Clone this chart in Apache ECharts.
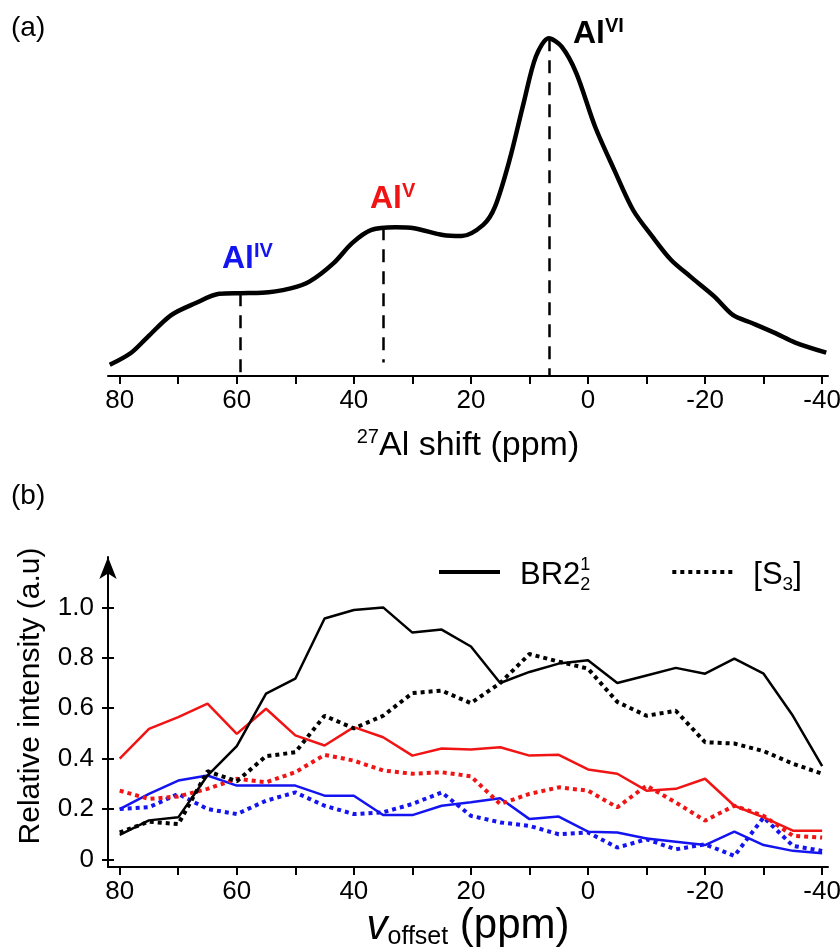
<!DOCTYPE html>
<html>
<head>
<meta charset="utf-8">
<script src="https://cdn.jsdelivr.net/npm/echarts@6/dist/echarts.min.js"></script>
<style>
  html, body { margin: 0; background: #fff; }
  #chart { width: 840px; height: 952px; }
</style>
</head>
<body>
<div id="chart"></div>
<script>
// (a) 27Al spectrum: [shift ppm, intensity]
const shiftPpm = [81.7, 78.1, 75.2, 71.2, 67.1, 63.0, 59.4, 55.7, 50.8, 47.6, 43.5, 40.3, 37.0, 32.9, 29.7,
  24.8, 21.6, 17.9, 15.9, 13.4, 11.0, 8.9, 6.7, 4.5, 2.0, -1.2, -4.5, -7.7, -11.0, -14.2, -17.5, -21.6,
  -24.8, -28.1, -32.1, -35.4, -40.7];
const spectrum = [0.033, 0.068, 0.116, 0.18, 0.215, 0.243, 0.245, 0.246, 0.259, 0.279, 0.333, 0.393, 0.432,
  0.44, 0.437, 0.417, 0.414, 0.447, 0.5, 0.639, 0.807, 0.945, 0.999, 0.974, 0.896, 0.738, 0.609, 0.491,
  0.412, 0.343, 0.294, 0.235, 0.18, 0.156, 0.126, 0.099, 0.069];

// peak positions marked with dashed lines
const peakPpm = [59.4, 34.9, 6.7];
const peakTop = [0.245, 0.44, 0.999];
const peakBottom = [0, 0.04, 0];

// (b) relative intensity vs offset
const offsetPpm = [80, 75, 70, 65, 60, 55, 50, 45, 40, 35, 30, 25, 20, 15, 10, 5, 0, -5, -10, -15, -20, -25, -30, -35, -40];
const brBlack = [0.097, 0.155, 0.167, 0.333, 0.45, 0.658, 0.717, 0.956, 0.99, 1.0, 0.9, 0.912, 0.845, 0.70,
  0.744, 0.777, 0.79, 0.70, 0.73, 0.76, 0.737, 0.797, 0.737, 0.57, 0.37];
const s3Black = [0.107, 0.15, 0.14, 0.35, 0.31, 0.41, 0.425, 0.57, 0.52, 0.57, 0.66, 0.67, 0.62, 0.70,
  0.815, 0.785, 0.757, 0.625, 0.57, 0.59, 0.465, 0.46, 0.43, 0.38, 0.34];
const brRed = [0.40, 0.518, 0.565, 0.618, 0.498, 0.598, 0.492, 0.452, 0.525, 0.485, 0.412, 0.44, 0.436, 0.445,
  0.412, 0.415, 0.357, 0.34, 0.273, 0.28, 0.32, 0.213, 0.167, 0.114, 0.114];
const s3Red = [0.273, 0.24, 0.25, 0.28, 0.32, 0.306, 0.346, 0.415, 0.392, 0.353, 0.34, 0.346, 0.33, 0.22,
  0.26, 0.286, 0.273, 0.207, 0.293, 0.226, 0.154, 0.213, 0.173, 0.094, 0.087];
const brBlue = [0.2, 0.26, 0.313, 0.333, 0.293, 0.293, 0.293, 0.253, 0.253, 0.176, 0.176, 0.213, 0.227, 0.243,
  0.16, 0.17, 0.11, 0.107, 0.083, 0.07, 0.057, 0.11, 0.057, 0.034, 0.025];
const s3Blue = [0.2, 0.207, 0.26, 0.2, 0.18, 0.233, 0.266, 0.213, 0.18, 0.187, 0.22, 0.266, 0.173, 0.147,
  0.133, 0.1, 0.107, 0.047, 0.08, 0.04, 0.06, 0.014, 0.167, 0.054, 0.034];

const xTicks = [80, 70, 60, 50, 40, 30, 20, 10, 0, -10, -20, -30, -40];
const xLabels = [80, 60, 40, 20, 0, -20, -40];
const yLabels = [0, 0.2, 0.4, 0.6, 0.8, 1.0];

const FONT = "'Liberation Sans', Arial, Helvetica, sans-serif";
const RED = '#f01414';
const BLUE = '#1414f0';

function pairs(xs, ys) {
  return xs.map((x, i) => [x, ys[i]]);
}

function xAxisCommon(grid) {
  return {
    type: 'value',
    gridIndex: grid,
    inverse: true,
    min: -41,
    max: 82,
    axisLine: { show: true, onZero: false, lineStyle: { color: '#000', width: 2 } },
    axisTick: { show: true, customValues: xTicks, length: 8, lineStyle: { color: '#000', width: 2 } },
    axisLabel: { customValues: xLabels, color: '#000', fontSize: 26, fontFamily: FONT, margin: 12 },
    splitLine: { show: false }
  };
}

const chart = echarts.init(document.getElementById('chart'));

const dashed = peakPpm.map((p, i) => [{ coord: [p, peakTop[i]] }, { coord: [p, peakBottom[i]] }]);

function line(name, data, color, dotted) {
  return {
    name: name,
    type: 'line',
    xAxisIndex: 1,
    yAxisIndex: 1,
    data: pairs(offsetPpm, data),
    symbol: 'none',
    itemStyle: { color: color },
    lineStyle: dotted ? { color: color, width: 4, type: [4, 4] } : { color: color, width: 2.5 }
  };
}

chart.setOption({
  animation: false,
  backgroundColor: '#fff',
  grid: [
    { left: 108, width: 720, top: 21, height: 355, containLabel: false, outerBoundsMode: 'none' },
    { left: 108, width: 720, top: 557, height: 310, containLabel: false, outerBoundsMode: 'none' }
  ],
  legend: {
    data: ['BR2', '[S3]'],
    left: 437,
    top: 556,
    padding: 0,
    itemWidth: 61,
    itemHeight: 38,
    itemGap: 80,
    itemStyle: { opacity: 0 },
    lineStyle: { width: 4 },
    formatter: function (name) {
      return name === 'BR2' ? '{m|BR2}{u|1}{d|2}' : '{m|[S}{s|3}{m|]}';
    },
    textStyle: {
      color: '#000',
      fontFamily: FONT,
      padding: [6, 0, 0, 15],
      rich: {
        m: { fontSize: 31, lineHeight: 38, fontFamily: FONT, color: '#000' },
        u: { fontSize: 18, lineHeight: 26, verticalAlign: 'top', width: 0, fontFamily: FONT, color: '#000' },
        d: { fontSize: 18, lineHeight: 14, verticalAlign: 'bottom', fontFamily: FONT, color: '#000' },
        s: { fontSize: 19, lineHeight: 14, verticalAlign: 'bottom', fontFamily: FONT, color: '#000' }
      }
    }
  },
  xAxis: [
    Object.assign(xAxisCommon(0), {
      name: '{sup|27}{n|Al shift (ppm)}',
      nameLocation: 'middle',
      nameGap: 51,
      nameTextStyle: {
        rich: {
          sup: { fontSize: 20, lineHeight: 28, verticalAlign: 'top', fontFamily: FONT, color: '#000' },
          n: { fontSize: 34, lineHeight: 38, fontFamily: FONT, color: '#000' }
        }
      }
    }),
    Object.assign(xAxisCommon(1), {
      name: '{i|v}{s|offset}{n| (ppm)}',
      nameLocation: 'middle',
      nameGap: 35,
      nameTextStyle: {
        rich: {
          i: { fontSize: 42, lineHeight: 46, fontStyle: 'italic', fontFamily: FONT, color: '#000' },
          s: { fontSize: 25, lineHeight: 32, verticalAlign: 'bottom', fontFamily: FONT, color: '#000' },
          n: { fontSize: 42, lineHeight: 46, fontFamily: FONT, color: '#000' }
        }
      }
    })
  ],
  yAxis: [
    { type: 'value', gridIndex: 0, min: 0, max: 1.05, show: false },
    {
      type: 'value',
      gridIndex: 1,
      position: 'left',
      min: -0.03,
      max: 1.2,
      name: 'Relative intensity (a.u)',
      nameLocation: 'middle',
      nameRotate: 90,
      nameGap: 62,
      nameTextStyle: { fontSize: 30, fontFamily: FONT, color: '#000', padding: [0, 0, 0, 32] },
      axisLine: {
        show: true,
        onZero: false,
        symbol: ['none', 'arrow'],
        symbolSize: [13, 22],
        lineStyle: { color: '#000', width: 2 }
      },
      axisTick: { show: true, customValues: yLabels, length: 6, lineStyle: { color: '#000', width: 2 } },
      axisLabel: {
        customValues: yLabels,
        color: '#000',
        fontSize: 26,
        fontFamily: FONT,
        margin: 14,
        formatter: v => (v === 0 ? '0' : v.toFixed(1))
      },
      splitLine: { show: false }
    },
    {
      // inner half of the y ticks
      type: 'value',
      gridIndex: 1,
      position: 'left',
      offset: 0,
      min: -0.03,
      max: 1.2,
      axisLine: { show: false, onZero: false },
      axisTick: { show: true, inside: true, customValues: yLabels, length: 6, lineStyle: { color: '#000', width: 2 } },
      axisLabel: { show: false },
      splitLine: { show: false }
    }
  ],
  graphic: [
    { type: 'text', left: 11, top: 14, style: { text: '(a)', font: '28px ' + FONT, fill: '#000' } },
    { type: 'text', left: 11, top: 482, style: { text: '(b)', font: '28px ' + FONT, fill: '#000' } },
    {
      type: 'text', x: 222, y: 259,
      style: {
        text: '{a|Al}{b|IV}', verticalAlign: 'middle',
        rich: {
          a: { fontSize: 32, fontWeight: 'bold', lineHeight: 36, fontFamily: FONT, fill: BLUE },
          b: { fontSize: 20, fontWeight: 'bold', lineHeight: 16, verticalAlign: 'top', fontFamily: FONT, fill: BLUE }
        }
      }
    },
    {
      type: 'text', x: 370, y: 199,
      style: {
        text: '{a|Al}{b|V}', verticalAlign: 'middle',
        rich: {
          a: { fontSize: 32, fontWeight: 'bold', lineHeight: 36, fontFamily: FONT, fill: RED },
          b: { fontSize: 20, fontWeight: 'bold', lineHeight: 16, verticalAlign: 'top', fontFamily: FONT, fill: RED }
        }
      }
    },
    {
      type: 'text', x: 573, y: 34,
      style: {
        text: '{a|Al}{b|VI}', verticalAlign: 'middle',
        rich: {
          a: { fontSize: 32, fontWeight: 'bold', lineHeight: 36, fontFamily: FONT, fill: '#000' },
          b: { fontSize: 20, fontWeight: 'bold', lineHeight: 16, verticalAlign: 'top', fontFamily: FONT, fill: '#000' }
        }
      }
    }
  ],
  series: [
    {
      name: 'spectrum',
      type: 'line',
      xAxisIndex: 0,
      yAxisIndex: 0,
      data: pairs(shiftPpm, spectrum),
      smooth: 0.3,
      symbol: 'none',
      lineStyle: { color: '#000', width: 4.5 },
      itemStyle: { color: '#000' },
      markLine: {
        silent: true,
        symbol: ['none', 'none'],
        label: { show: false },
        lineStyle: { color: '#000', width: 2.5, type: [13, 9] },
        data: dashed
      }
    },
    line('s3 blue', s3Blue, BLUE, true),
    line('br blue', brBlue, BLUE, false),
    line('s3 red', s3Red, RED, true),
    line('br red', brRed, RED, false),
    line('s3 black', s3Black, '#000', true),
    line('br black', brBlack, '#000', false),
    // legend entries only
    { name: 'BR2', type: 'line', xAxisIndex: 1, yAxisIndex: 1, data: [], symbol: 'none',
      itemStyle: { color: '#000' }, lineStyle: { color: '#000', width: 4 } },
    { name: '[S3]', type: 'line', xAxisIndex: 1, yAxisIndex: 1, data: [], symbol: 'none',
      itemStyle: { color: '#000' }, lineStyle: { color: '#000', width: 4, type: [4, 4] } }
  ]
});
</script>
</body>
</html>
